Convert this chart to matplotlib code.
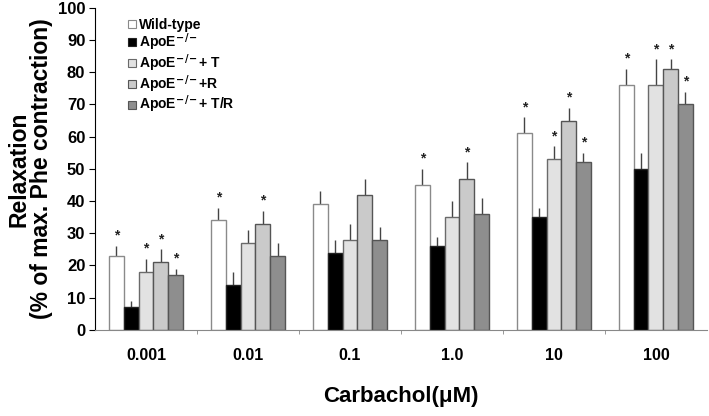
import numpy as np
import matplotlib
matplotlib.use("Agg")
import matplotlib.pyplot as plt
from matplotlib.lines import Line2D

plt.rcParams['font.family'] = ['Liberation Sans', 'DejaVu Sans']
plt.rcParams['font.weight'] = 'bold'
plt.rcParams['mathtext.default'] = 'bf'

doses = ['0.001', '0.01', '0.1', '1.0', '10', '100']
labels = ['Wild-type', r'ApoE$^{\!-\!/\!-}$', r'ApoE$^{\!-\!/\!-}$+ T',
          r'ApoE$^{\!-\!/\!-}$+R', r'ApoE$^{\!-\!/\!-}$+ T/R']

wild_type = [23, 34, 39, 45, 61, 76]
apoe = [7, 14, 24, 26, 35, 50]
apoe_t = [18, 27, 28, 35, 53, 76]
apoe_r = [21, 33, 42, 47, 65, 81]
apoe_tr = [17, 23, 28, 36, 52, 70]

wild_type_err = [3, 4, 4, 5, 5, 5]
apoe_err = [2, 4, 4, 3, 3, 5]
apoe_t_err = [4, 4, 5, 5, 4, 8]
apoe_r_err = [4, 4, 5, 5, 4, 3]
apoe_tr_err = [2, 4, 4, 5, 3, 4]

# significance stars per series
wild_type_sig = [1, 1, 0, 1, 1, 1]
apoe_sig = [0, 0, 0, 0, 0, 0]
apoe_t_sig = [1, 0, 0, 0, 1, 1]
apoe_r_sig = [1, 1, 0, 1, 1, 1]
apoe_tr_sig = [1, 0, 0, 0, 1, 1]

series = [wild_type, apoe, apoe_t, apoe_r, apoe_tr]
errors = [wild_type_err, apoe_err, apoe_t_err, apoe_r_err, apoe_tr_err]
sigs = [wild_type_sig, apoe_sig, apoe_t_sig, apoe_r_sig, apoe_tr_sig]
colors = ['white', 'black', '#e2e2e2', '#cacaca', '#8e8e8e']
edges = ['#8a8a8a', '#222222', '#6a6a6a', '#555555', '#555555']

fig = plt.figure(figsize=(7.09, 4.16), dpi=100)
ax = fig.add_axes([0.134, 0.207, 0.863, 0.774])

x = np.arange(len(doses))
w = 0.145
for i, (vals, errs, sg) in enumerate(zip(series, errors, sigs)):
    pos = x + (i - 2) * w
    ax.bar(pos, vals, width=w, color=colors[i], edgecolor=edges[i], linewidth=1.0, zorder=2)
    ax.vlines(pos, vals, np.array(vals) + np.array(errs), color='#444444', linewidth=1.0, zorder=1)
    for p, v, e, s in zip(pos, vals, errs, sg):
        if s:
            ax.text(p, v + e + 1.0, '*', ha='center', va='bottom', fontsize=10, color='#222222')

ax.set_xlim(-0.5, len(doses) - 0.5)
ax.set_ylim(0, 100)
ax.set_yticks(range(0, 101, 10))
ax.set_xticks(x)
ax.set_xticklabels(doses, fontsize=11.5, fontweight='bold')
ax.set_xticks(np.arange(0.5, len(doses) - 0.5, 1), minor=True)
ax.tick_params(axis='x', which='major', length=0, pad=13)
ax.tick_params(axis='x', which='minor', length=3, color='#888888')
ax.tick_params(axis='y', labelsize=12, length=4, direction='out', pad=3)
for t in ax.get_yticklabels():
    t.set_fontweight('bold')
ax.spines['top'].set_visible(False)
ax.spines['right'].set_visible(False)
ax.spines['bottom'].set_color('#888888')

ax.set_ylabel('Relaxation\n(% of max. Phe contraction)', fontsize=16.5, fontweight='bold', linespacing=1.0)
ax.yaxis.set_label_coords(-0.068, 0.5)
ax.set_xlabel('Carbachol(μM)', fontsize=16, fontweight='bold')
ax.xaxis.set_label_coords(0.5, -0.175)

handles = [Line2D([0], [0], marker='s', linestyle='', markersize=6, markerfacecolor=c,
                  markeredgecolor=e, markeredgewidth=0.8) for c, e in zip(colors, edges)]
ax.legend(handles, labels, loc='upper left', bbox_to_anchor=(0.035, 0.995), frameon=False,
          prop={'size': 10, 'weight': 'bold'}, handletextpad=0.0, labelspacing=-0.05,
          handlelength=1.0, borderaxespad=0.2)

fig.savefig('out.png', dpi=100)
